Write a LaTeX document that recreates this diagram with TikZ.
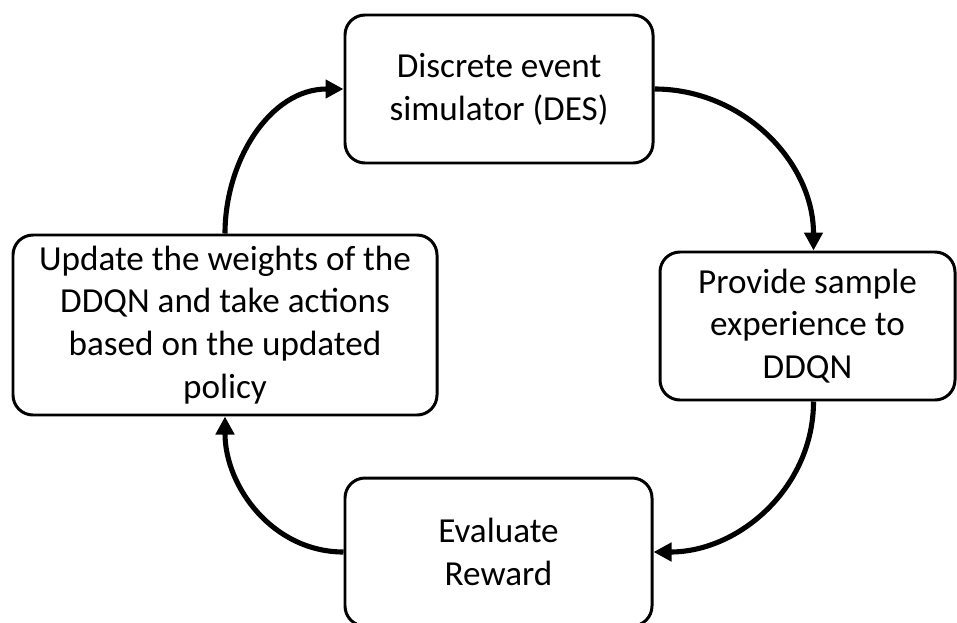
\documentclass[tikz,border=0pt]{standalone}
\usepackage{fontspec}
\setmainfont{Carlito}
\usetikzlibrary{arrows.meta}

\begin{document}
\begin{tikzpicture}[
  stage/.style={draw,line width=1.7pt,rounded corners=0.4cm,align=center,
    inner sep=2pt,font=\fontsize{20}{24.4}\selectfont},
  loop/.style={line width=2.9pt,-{Triangle[length=0.36cm,width=0.36cm]}}]
\useasboundingbox (0,0) rectangle (19.14,-12.44);

\node[stage,minimum width=6.16cm,minimum height=2.96cm] (des) at (9.98,-1.78)
  {Discrete event\\simulator (DES)};
\node[stage,minimum width=5.9cm,minimum height=2.96cm] (sample) at (16.15,-6.52)
  {Provide sample\\experience to\\DDQN};
\node[stage,minimum width=6.14cm,minimum height=2.96cm] (reward) at (9.97,-11.04)
  {Evaluate\\Reward};
\node[stage,minimum width=8.48cm,minimum height=3.6cm] (update) at (4.5,-6.5)
  {Update the weights of the\\DDQN and take actions\\based on the updated\\policy};

\draw[loop] (des.east) to[out=0,in=90] ([xshift=0.12cm]sample.north);
\draw[loop] ([xshift=0.12cm]sample.south) to[out=-90,in=0] (reward.east);
\draw[loop] (reward.west) to[out=180,in=-90] (update.south);
\draw[loop] (update.north) to[out=90,in=180] (des.west);
\end{tikzpicture}
\end{document}
